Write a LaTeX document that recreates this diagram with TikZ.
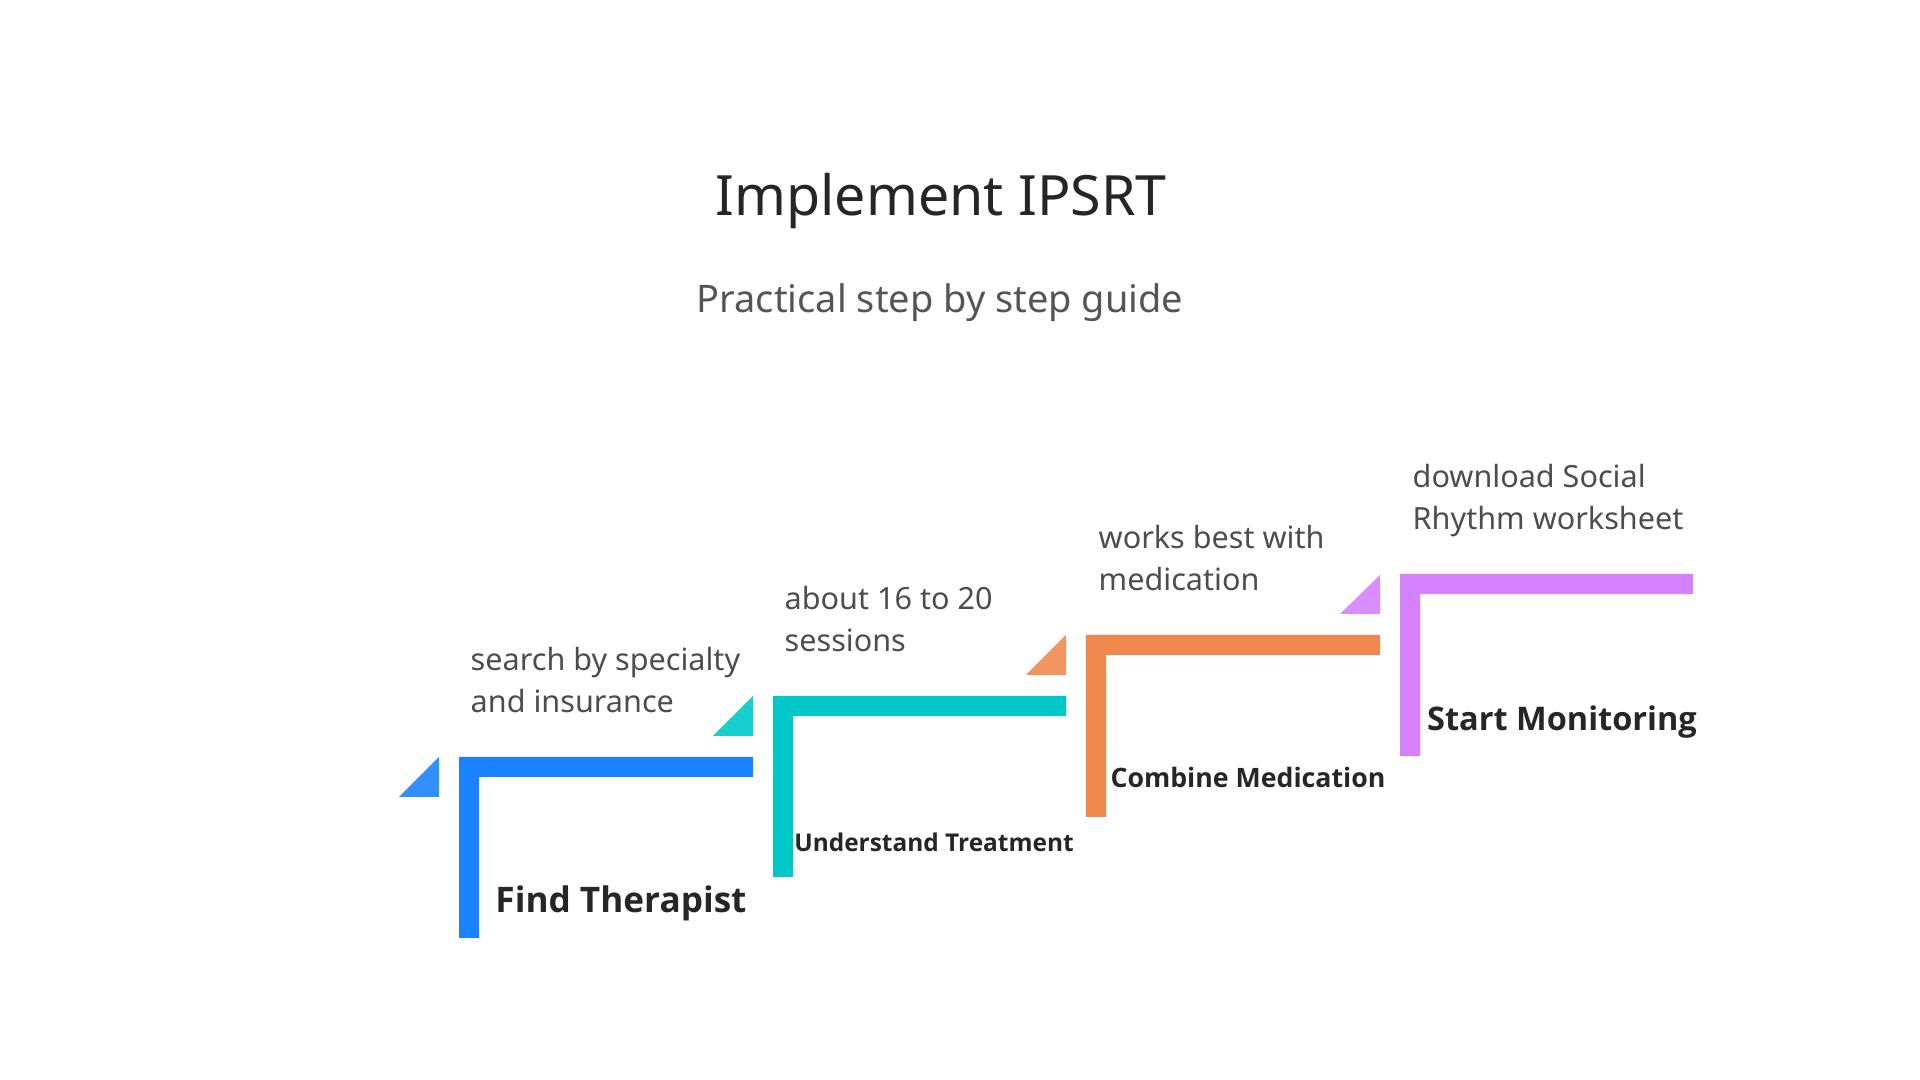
\documentclass[tikz,border=0pt]{standalone}
\usepackage{fontspec}
\setmainfont{Noto Sans}[BoldFont={Open Sans Bold}]
\definecolor{titlegray}{HTML}{262626}
\definecolor{subgray}{HTML}{555555}
\definecolor{notegray}{HTML}{4D4D4D}
\definecolor{stepblue}{HTML}{1A82FF}
\definecolor{stepteal}{HTML}{00C8C8}
\definecolor{steporange}{HTML}{F0884E}
\definecolor{steppurple}{HTML}{D580FF}
\tikzset{
  stepnote/.style={anchor=base west, inner sep=0pt, align=left, text=notegray,
    font=\fontsize{8.7}{12.2}\selectfont},
  stephead/.style={anchor=base, inner sep=0pt, text=titlegray}
}
\begin{document}
\begin{tikzpicture}[x=0.01cm, y=-0.01cm]
    \useasboundingbox (0,0) rectangle (1920,1080);
    % heading
    \node[anchor=base, inner sep=0pt, text=titlegray, font=\fontsize{15.8}{19}\selectfont] (title) at (941,216) {Implement IPSRT};
    \node[anchor=base, inner sep=0pt, text=subgray, font=\fontsize{10.8}{13}\selectfont] (subtitle) at (940,313) {Practical step by step guide};
    % step 1
    \fill[stepblue] (459,757) -- (753,757) -- (753,777) -- (479,777) -- (479,938) -- (459,938) -- cycle;
    \fill[stepblue!90!white] (439,757) -- (439,797) -- (399,797) -- cycle;
    \node[stepnote] (findnote) at (470,713) {search by specialty\\and insurance};
    \node[stephead, font=\fontsize{10}{12}\bfseries\selectfont] (find) at (621,913) {Find Therapist};
    % step 2
    \fill[stepteal] (773,696) -- (1066,696) -- (1066,716) -- (793,716) -- (793,877) -- (773,877) -- cycle;
    \fill[stepteal!90!white] (753,696) -- (753,736) -- (713,736) -- cycle;
    \node[stepnote] (treatnote) at (784,652) {about 16 to 20\\sessions};
    \node[stephead, font=\fontsize{6.95}{9}\bfseries\selectfont] (treat) at (934,852) {Understand Treatment};
    % step 3
    \fill[steporange] (1086,635) -- (1380,635) -- (1380,655) -- (1106,655) -- (1106,817) -- (1086,817) -- cycle;
    \fill[steporange!90!white] (1066,635) -- (1066,675) -- (1026,675) -- cycle;
    \node[stepnote] (mednote) at (1098,591) {works best with\\medication};
    \node[stephead, font=\fontsize{7.6}{9}\bfseries\selectfont] (med) at (1248,788) {Combine Medication};
    % step 4
    \fill[steppurple] (1400,574) -- (1693,574) -- (1693,594) -- (1420,594) -- (1420,756) -- (1400,756) -- cycle;
    \fill[steppurple!90!white] (1380,575) -- (1380,614) -- (1340,614) -- cycle;
    \node[stepnote] (monnote) at (1412,530) {download Social\\Rhythm worksheet};
    \node[stephead, font=\fontsize{9.25}{11}\bfseries\selectfont] (mon) at (1562,731) {Start Monitoring};
\end{tikzpicture}
\end{document}
